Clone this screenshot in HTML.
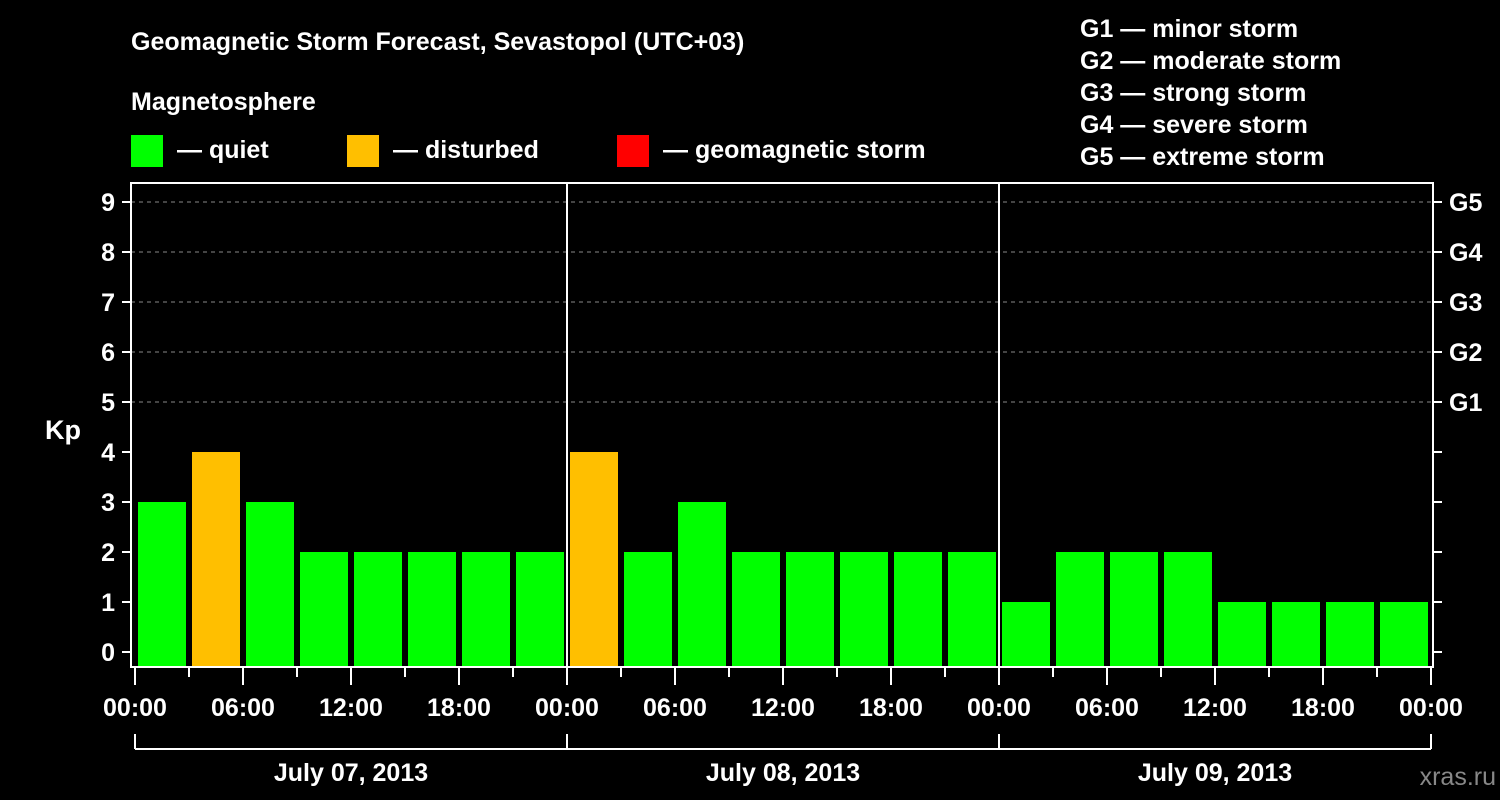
<!DOCTYPE html>
<html><head><meta charset="utf-8"><style>
body{margin:0;background:#000;}
svg{display:block;font-family:"Liberation Sans",sans-serif;font-weight:bold;}
</style></head><body>
<svg id="chart" width="1500" height="800" viewBox="0 0 1500 800">
<rect width="1500" height="800" fill="#000"/>
<text x="131" y="50" font-size="25" fill="#fff">Geomagnetic Storm Forecast, Sevastopol (UTC+03)</text>
<text x="131" y="110" font-size="25" fill="#fff">Magnetosphere</text>
<g><rect x="131" y="135" width="32" height="32" fill="#00ff00"/><text x="177" y="158" font-size="25" fill="#fff">— quiet</text></g>
<g><rect x="347" y="135" width="32" height="32" fill="#ffbf00"/><text x="393" y="158" font-size="25" fill="#fff">— disturbed</text></g>
<g><rect x="617" y="135" width="32" height="32" fill="#ff0000"/><text x="663" y="158" font-size="25" fill="#fff">— geomagnetic storm</text></g>
<g font-size="25" fill="#fff">
<text x="1080" y="37">G1 — minor storm</text>
<text x="1080" y="69">G2 — moderate storm</text>
<text x="1080" y="101">G3 — strong storm</text>
<text x="1080" y="133">G4 — severe storm</text>
<text x="1080" y="165">G5 — extreme storm</text>
</g>
<text x="63" y="439" font-size="27" fill="#fff" text-anchor="middle">Kp</text>
<text x="1496" y="785" font-size="25" fill="#888" text-anchor="end" font-weight="normal">xras.ru</text>
<g id="grid"></g><g id="bars"></g><g id="axes"></g>
</svg>
<script>
const kpValues=[3,4,3,2,2,2,2,2, 4,2,3,2,2,2,2,2, 1,2,2,2,1,1,1,1];
const yTicks=[0,1,2,3,4,5,6,7,8,9];
const gLabels=["G1","G2","G3","G4","G5"];
const gLevels=[5,6,7,8,9];
const hourLabels=["00:00","06:00","12:00","18:00","00:00","06:00","12:00","18:00","00:00","06:00","12:00","18:00","00:00"];
const dayLabels=["July 07, 2013","July 08, 2013","July 09, 2013"];
const NS="http://www.w3.org/2000/svg";
const X0=135,SLOT=54,L=131,R=1433,T=183,B=667;
const y=v=>652-50*v;
const x=i=>X0+SLOT*i;
function mk(tag,attrs,parent,text){const e=document.createElementNS(NS,tag);for(const k in attrs)e.setAttribute(k,attrs[k]);if(text!==undefined)e.textContent=text;parent.appendChild(e);return e;}
const grid=document.getElementById('grid'),bars=document.getElementById('bars'),axes=document.getElementById('axes');
gLevels.forEach((v,i)=>{
 const l=mk('line',{x1:L,x2:R,y1:y(v),y2:y(v),stroke:'#888','stroke-dasharray':'4,4','stroke-width':1},grid);
 
 
 const t=mk('text',{x:1449,y:y(v)+9,'font-size':25,fill:'#fff'},axes,gLabels[i]);
 
 
});
kpValues.forEach((v,i)=>{
 const c=v>=5?'#ff0000':(v>=4?'#ffbf00':'#00ff00');
 const r=mk('rect',{x:x(i)+3,y:y(v),width:48,height:B-y(v),fill:c},bars);
 
 
});
mk('rect',{x:L,y:T,width:R-L,height:B-T,fill:'none',stroke:'#fff','stroke-width':2},axes);
[1,2].forEach(d=>mk('line',{x1:x(d*8),x2:x(d*8),y1:T,y2:B,stroke:'#fff','stroke-width':2},axes));
yTicks.forEach(v=>{
 mk('line',{x1:122,x2:L,y1:y(v),y2:y(v),stroke:'#fff','stroke-width':2},axes);
 mk('line',{x1:R,x2:1442,y1:y(v),y2:y(v),stroke:'#fff','stroke-width':2},axes);
 const t=mk('text',{x:115,y:y(v)+9,'font-size':25,fill:'#fff','text-anchor':'end'},axes,String(v));
 
 
});
for(let i=0;i<=kpValues.length;i++){
 mk('line',{x1:x(i),x2:x(i),y1:B,y2:i%2==0?685:677,stroke:'#fff','stroke-width':2},axes);
}
hourLabels.forEach((h,i)=>{
 const t=mk('text',{x:x(i*2),y:716,'font-size':25,fill:'#fff','text-anchor':'middle'},axes,h);
 
 
});
mk('line',{x1:x(0),x2:x(24),y1:749,y2:749,stroke:'#fff','stroke-width':2},axes);
for(let d=0;d<=3;d++)mk('line',{x1:x(d*8),x2:x(d*8),y1:734,y2:749,stroke:'#fff','stroke-width':2},axes);
dayLabels.forEach((s,d)=>{
 const t=mk('text',{x:x(d*8+4),y:781,'font-size':25,fill:'#fff','text-anchor':'middle'},axes,s);
 
 
});
</script>
</body></html>
